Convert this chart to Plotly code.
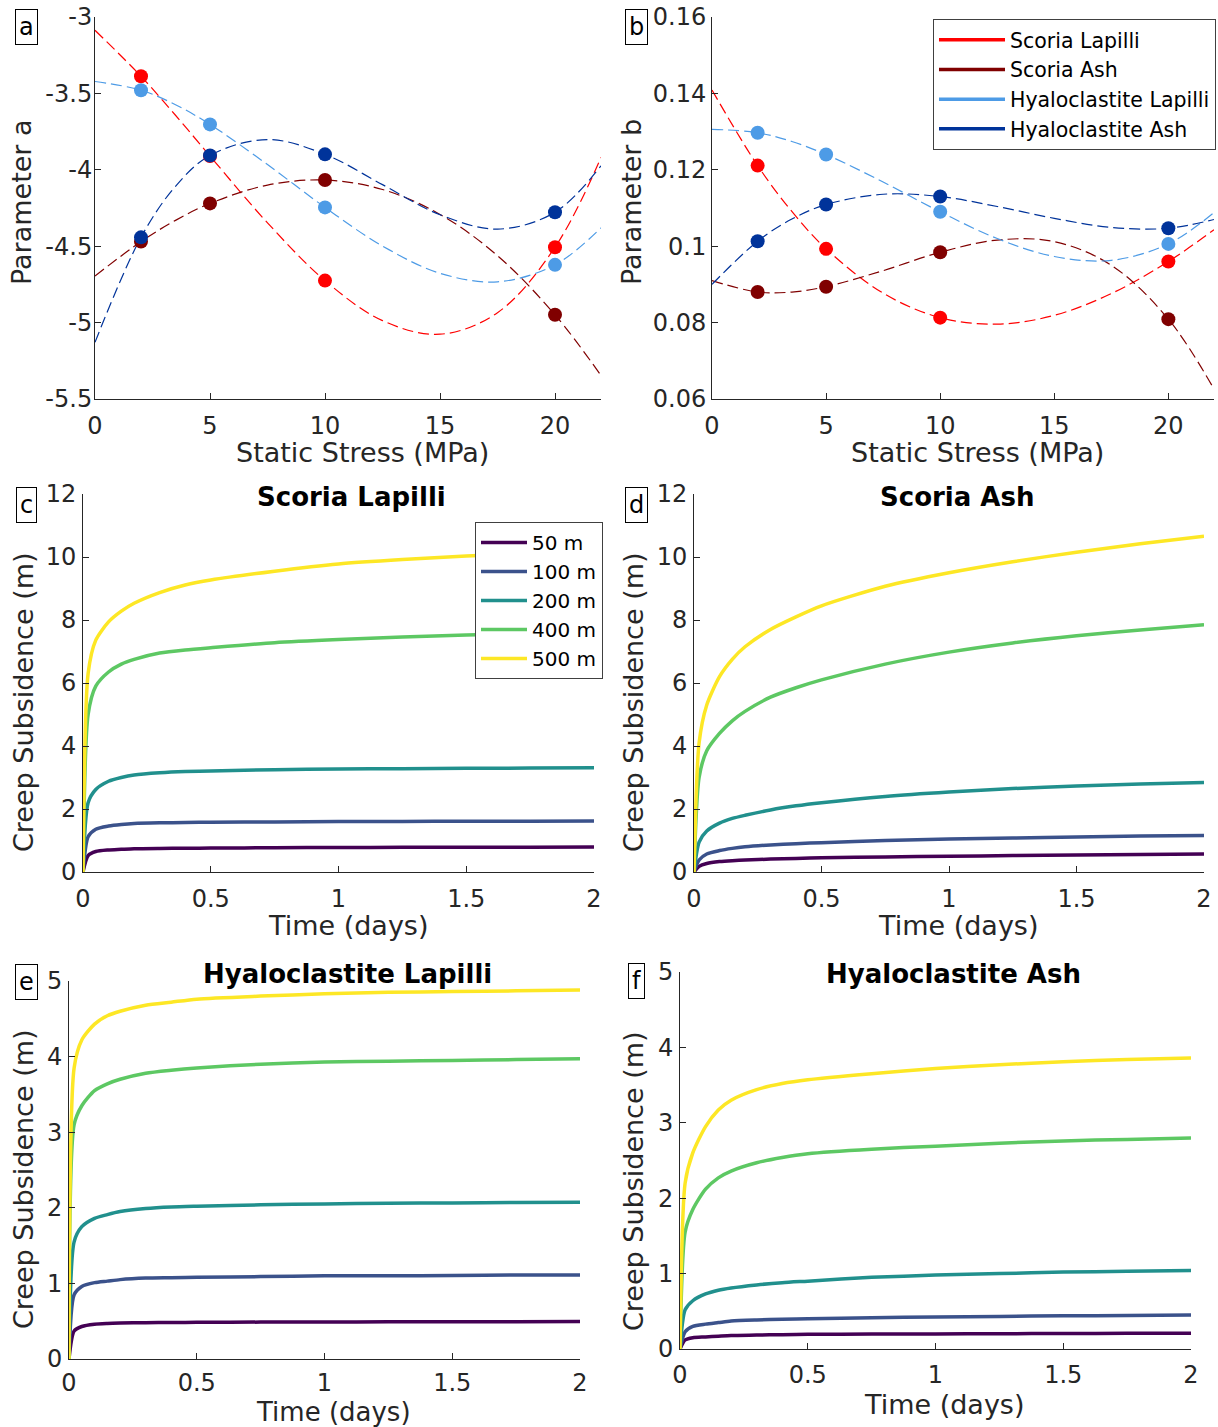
import plotly.graph_objects as go

W, H = 1218, 1427

# ---------------- Panels a & b : parameters vs static stress ----------------
MATERIALS = ["Scoria Lapilli", "Scoria Ash", "Hyaloclastite Lapilli", "Hyaloclastite Ash"]
MAT_COLORS = ["#ff0000", "#800000", "#4d9be6", "#00339a"]

STRESS = [2, 5, 10, 20]
FIT_STRESS = [0, 2, 3.5, 5, 7.5, 10, 12.5, 15, 17.5, 20, 22]

# parameter a (measured points)
A_SCORIA_LAPILLI = [-3.388, -3.91, -4.725, -4.507]
A_SCORIA_ASH = [-4.47, -4.22, -4.067, -4.949]
A_HYALO_LAPILLI = [-3.479, -3.703, -4.246, -4.622]
A_HYALO_ASH = [-4.442, -3.906, -3.899, -4.278]
# parameter a (dashed fit curves, read along FIT_STRESS)
A_FIT_SCORIA_LAPILLI = [-3.087, -3.388, -3.643, -3.91, -4.347, -4.725, -4.987, -5.076, -4.935, -4.507, -3.92]
A_FIT_SCORIA_ASH = [-4.695, -4.47, -4.331, -4.22, -4.100, -4.067, -4.129, -4.292, -4.562, -4.949, -5.346]
A_FIT_HYALO_LAPILLI = [-3.422, -3.479, -3.574, -3.703, -3.966, -4.246, -4.499, -4.677, -4.733, -4.622, -4.380]
A_FIT_HYALO_ASH = [-5.129, -4.442, -4.108, -3.906, -3.802, -3.899, -4.097, -4.294, -4.388, -4.278, -3.974]

# parameter b (measured points)
B_SCORIA_LAPILLI = [0.1211, 0.0993, 0.0813, 0.0960]
B_SCORIA_ASH = [0.0880, 0.0894, 0.0984, 0.0809]
B_HYALO_LAPILLI = [0.1297, 0.1240, 0.1090, 0.1006]
B_HYALO_ASH = [0.1013, 0.1109, 0.1130, 0.1047]
# parameter b (dashed fit curves)
B_FIT_SCORIA_LAPILLI = [0.1409, 0.1211, 0.1091, 0.0993, 0.0877, 0.0813, 0.0796, 0.0819, 0.0876, 0.0960, 0.1043]
B_FIT_SCORIA_ASH = [0.0910, 0.0880, 0.0880, 0.0894, 0.0936, 0.0984, 0.1016, 0.1012, 0.0950, 0.0809, 0.0626]
B_FIT_HYALO_LAPILLI = [0.1306, 0.1297, 0.1274, 0.1240, 0.1168, 0.1090, 0.1020, 0.0973, 0.0963, 0.1006, 0.1088]
B_FIT_HYALO_ASH = [0.0900, 0.1013, 0.1071, 0.1109, 0.1136, 0.1130, 0.1104, 0.1073, 0.1049, 0.1047, 0.1070]

A_TICKS = [-5.5, -5, -4.5, -4, -3.5, -3]
A_TICK_TEXT = ["-5.5", "-5", "-4.5", "-4", "-3.5", "-3"]
B_TICKS = [0.06, 0.08, 0.10, 0.12, 0.14, 0.16]
B_TICK_TEXT = ["0.06", "0.08", "0.1", "0.12", "0.14", "0.16"]
STRESS_TICKS = [0, 5, 10, 15, 20]

# ---------------- Panels c-f : creep subsidence vs time ----------------
DEPTHS = ["50 m", "100 m", "200 m", "400 m", "500 m"]
DEPTH_COLORS = ["#440154", "#3b528b", "#21908d", "#5dc863", "#fde725"]
TIME_DAYS = [0, 0.02, 0.05, 0.1, 0.15, 0.2, 0.3, 0.4, 0.5, 0.75, 1, 1.25, 1.5, 1.75, 2]

# Scoria Lapilli
SL_50 = [0, 0.52, 0.65, 0.70, 0.72, 0.74, 0.75, 0.755, 0.76, 0.77, 0.78, 0.782, 0.785, 0.788, 0.79]
SL_100 = [0, 1.12, 1.36, 1.46, 1.51, 1.54, 1.56, 1.57, 1.58, 1.59, 1.60, 1.605, 1.61, 1.615, 1.62]
SL_200 = [0, 2.2, 2.62, 2.88, 3.0, 3.08, 3.15, 3.19, 3.21, 3.25, 3.27, 3.28, 3.29, 3.30, 3.31]
SL_400 = [0, 5.0, 5.9, 6.35, 6.6, 6.75, 6.95, 7.05, 7.12, 7.28, 7.38, 7.46, 7.52, 7.57, 7.62]
SL_500 = [0, 6.3, 7.36, 7.94, 8.28, 8.53, 8.87, 9.11, 9.27, 9.55, 9.78, 9.92, 10.03, 10.11, 10.18]
# Scoria Ash
SA_50 = [0, 0.18, 0.27, 0.33, 0.36, 0.38, 0.41, 0.43, 0.45, 0.48, 0.50, 0.52, 0.54, 0.555, 0.57]
SA_100 = [0, 0.38, 0.57, 0.68, 0.75, 0.80, 0.86, 0.90, 0.93, 1.0, 1.05, 1.08, 1.11, 1.14, 1.16]
SA_200 = [0, 0.95, 1.3, 1.55, 1.7, 1.8, 1.97, 2.1, 2.2, 2.4, 2.54, 2.65, 2.73, 2.79, 2.84]
SA_400 = [0, 3.0, 3.85, 4.4, 4.8, 5.1, 5.55, 5.85, 6.1, 6.6, 6.98, 7.27, 7.5, 7.68, 7.85]
SA_500 = [0, 4.1, 5.3, 6.2, 6.75, 7.15, 7.7, 8.1, 8.45, 9.07, 9.5, 9.85, 10.15, 10.42, 10.66]
# Hyaloclastite Lapilli
HL_50 = [0, 0.37, 0.43, 0.46, 0.47, 0.475, 0.48, 0.483, 0.485, 0.488, 0.49, 0.492, 0.493, 0.494, 0.495]
HL_100 = [0, 0.85, 0.96, 1.01, 1.03, 1.05, 1.07, 1.075, 1.08, 1.09, 1.10, 1.10, 1.105, 1.11, 1.11]
HL_200 = [0, 1.55, 1.75, 1.86, 1.91, 1.95, 1.99, 2.01, 2.02, 2.04, 2.05, 2.06, 2.065, 2.07, 2.075]
HL_400 = [0, 3.1, 3.35, 3.55, 3.64, 3.7, 3.78, 3.82, 3.85, 3.9, 3.93, 3.94, 3.95, 3.96, 3.97]
HL_500 = [0, 3.85, 4.22, 4.43, 4.54, 4.6, 4.68, 4.72, 4.76, 4.8, 4.83, 4.85, 4.86, 4.87, 4.88]
# Hyaloclastite Ash
HA_50 = [0, 0.12, 0.15, 0.16, 0.17, 0.18, 0.185, 0.19, 0.195, 0.198, 0.20, 0.203, 0.205, 0.208, 0.21]
HA_100 = [0, 0.23, 0.30, 0.33, 0.35, 0.37, 0.385, 0.395, 0.40, 0.415, 0.425, 0.432, 0.44, 0.445, 0.45]
HA_200 = [0, 0.52, 0.64, 0.73, 0.78, 0.81, 0.85, 0.88, 0.90, 0.95, 0.98, 1.0, 1.02, 1.03, 1.04]
HA_400 = [0, 1.55, 1.85, 2.12, 2.27, 2.36, 2.47, 2.54, 2.59, 2.65, 2.69, 2.73, 2.76, 2.78, 2.80]
HA_500 = [0, 2.2, 2.6, 2.95, 3.17, 3.3, 3.44, 3.52, 3.57, 3.65, 3.72, 3.77, 3.81, 3.84, 3.86]

TIME_TICKS = [0, 0.5, 1, 1.5, 2]
TIME_TICK_TEXT = ["0", "0.5", "1", "1.5", "2"]

PANEL_TITLES = ["Scoria Lapilli", "Scoria Ash", "Hyaloclastite Lapilli", "Hyaloclastite Ash"]

# ---------------- build figure ----------------
FONT = "DejaVu Sans"
AX_COL = "#262626"
fig = go.Figure()

a_pts = [A_SCORIA_LAPILLI, A_SCORIA_ASH, A_HYALO_LAPILLI, A_HYALO_ASH]
a_fit = [A_FIT_SCORIA_LAPILLI, A_FIT_SCORIA_ASH, A_FIT_HYALO_LAPILLI, A_FIT_HYALO_ASH]
b_pts = [B_SCORIA_LAPILLI, B_SCORIA_ASH, B_HYALO_LAPILLI, B_HYALO_ASH]
b_fit = [B_FIT_SCORIA_LAPILLI, B_FIT_SCORIA_ASH, B_FIT_HYALO_LAPILLI, B_FIT_HYALO_ASH]

for (pts, fit, xa, ya) in [(a_pts, a_fit, "x", "y"), (b_pts, b_fit, "x2", "y2")]:
    for i in range(4):
        fig.add_trace(go.Scatter(x=FIT_STRESS, y=fit[i], mode="lines", xaxis=xa, yaxis=ya,
                                 line=dict(color=MAT_COLORS[i], width=1.2, dash="11px,5px",
                                           shape="spline", smoothing=1.0),
                                 showlegend=False, hoverinfo="skip"))
    for i in range(4):
        fig.add_trace(go.Scatter(x=STRESS, y=pts[i], mode="markers", xaxis=xa, yaxis=ya,
                                 marker=dict(color=MAT_COLORS[i], size=14, line=dict(width=0)),
                                 showlegend=False, name=MATERIALS[i]))

# legend entries for panel b
for i in range(4):
    fig.add_trace(go.Scatter(x=[None], y=[None], mode="lines", xaxis="x2", yaxis="y2",
                             line=dict(color=MAT_COLORS[i], width=3.5),
                             name=MATERIALS[i], showlegend=True, legend="legend"))

creep_sets = [
    ([SL_50, SL_100, SL_200, SL_400, SL_500], "x3", "y3"),
    ([SA_50, SA_100, SA_200, SA_400, SA_500], "x4", "y4"),
    ([HL_50, HL_100, HL_200, HL_400, HL_500], "x5", "y5"),
    ([HA_50, HA_100, HA_200, HA_400, HA_500], "x6", "y6"),
]
for k, (series, xa, ya) in enumerate(creep_sets):
    for j in range(5):
        fig.add_trace(go.Scatter(x=TIME_DAYS, y=series[j], mode="lines", xaxis=xa, yaxis=ya,
                                 line=dict(color=DEPTH_COLORS[j], width=3.5, shape="spline", smoothing=0.7),
                                 name=DEPTHS[j], showlegend=(k == 0), legend="legend2"))

# ---------------- axes layout ----------------
panels = {
    1: dict(x=(95, 601), y=(17, 399), ystand=-3, xstand=5),
    2: dict(x=(712, 1214), y=(17, 399), ystand=0, xstand=5),
    3: dict(x=(83, 594), y=(494, 872), ystand=1, xstand=5),
    4: dict(x=(694, 1204), y=(494, 872), ystand=1, xstand=5),
    5: dict(x=(69, 580), y=(981, 1359), ystand=1, xstand=2),
    6: dict(x=(680, 1191), y=(972, 1349), ystand=1, xstand=4),
}

common = dict(showline=True, linecolor=AX_COL, linewidth=1, ticks="inside", ticklen=6,
              tickcolor=AX_COL, tickwidth=1, showgrid=False, zeroline=False,
              tickfont=dict(family=FONT, size=24, color=AX_COL), mirror=False)

lay = {}
for n, p in panels.items():
    xs = "" if n == 1 else str(n)
    xd = [p["x"][0] / W, p["x"][1] / W]
    yd = [1 - p["y"][1] / H, 1 - p["y"][0] / H]
    lay["xaxis" + xs] = dict(domain=xd, anchor="y" + xs, ticklabelstandoff=p["xstand"], **common)
    lay["yaxis" + xs] = dict(domain=yd, anchor="x" + xs, ticklabelstandoff=p["ystand"], **common)

for n in (1, 2):
    xs = "" if n == 1 else str(n)
    lay["xaxis" + xs].update(range=[0, 22], tickvals=STRESS_TICKS)
lay["yaxis"].update(range=[-5.5, -3], tickvals=A_TICKS, ticktext=A_TICK_TEXT)
lay["yaxis2"].update(range=[0.06, 0.16], tickvals=B_TICKS, ticktext=B_TICK_TEXT)
for n in (3, 4, 5, 6):
    lay["xaxis%d" % n].update(range=[0, 2], tickvals=TIME_TICKS, ticktext=TIME_TICK_TEXT)
for n in (3, 4):
    lay["yaxis%d" % n].update(range=[0, 12], tickvals=[0, 2, 4, 6, 8, 10, 12])
for n in (5, 6):
    lay["yaxis%d" % n].update(range=[0, 5], tickvals=[0, 1, 2, 3, 4, 5])

fig.update_layout(**lay)

# ---------------- text annotations ----------------
ann = []


def px(x, y):
    return x / W, 1 - y / H


def text(x, y, s, size=27, bold=False, angle=0, color=AX_COL):
    X, Y = px(x, y)
    ann.append(dict(x=X, y=Y, xref="paper", yref="paper", text=("<b>%s</b>" % s) if bold else s,
                    showarrow=False, textangle=angle, xanchor="center", yanchor="middle",
                    font=dict(family=FONT, size=size, color=color)))


# axis titles
text(22, 202, "Parameter a", angle=-90)
text(362, 452, "Static Stress (MPa)")
text(632, 202, "Parameter b", angle=-90)
text(977, 452, "Static Stress (MPa)")
text(23, 702, "Creep Subsidence (m)", angle=-90)
text(348, 925, "Time (days)")
text(633, 702, "Creep Subsidence (m)", angle=-90)
text(958, 925, "Time (days)")
text(23, 1179, "Creep Subsidence (m)", angle=-90)
text(333, 1412, "Time (days)", size=26)
text(633, 1181, "Creep Subsidence (m)", angle=-90)
text(944, 1404, "Time (days)")
# panel titles
text(351, 497, PANEL_TITLES[0], size=26, bold=True, color="#000000")
text(957, 497, PANEL_TITLES[1], size=26, bold=True, color="#000000")
text(347, 974, PANEL_TITLES[2], size=26, bold=True, color="#000000")
text(953, 974, PANEL_TITLES[3], size=26, bold=True, color="#000000")

# panel letters in boxes
for lab, (x, y) in zip("abcdef", [(26, 27), (636, 27), (26, 505), (636, 505), (26, 982), (636, 981)]):
    X, Y = px(x, y)
    ann.append(dict(x=X, y=Y, xref="paper", yref="paper", text=lab, showarrow=False,
                    xanchor="center", yanchor="middle", bordercolor="#000000", borderwidth=1,
                    borderpad=3, bgcolor="white",
                    font=dict(family=FONT, size=24, color="#000000")))

fig.update_layout(
    annotations=ann,
    autosize=True,
    margin=dict(l=0, r=0, t=0, b=0, autoexpand=False),
    paper_bgcolor="white", plot_bgcolor="white",
    font=dict(family=FONT, color=AX_COL),
    legend=dict(x=1216 / W, y=1 - 19 / H, xanchor="right", yanchor="top",
                bgcolor="white", bordercolor="#404040", borderwidth=1,
                font=dict(family=FONT, size=20.5, color="#000000"), itemwidth=66,
                tracegroupgap=0),
    legend2=dict(x=603 / W, y=1 - 522 / H, xanchor="right", yanchor="top",
                 bgcolor="white", bordercolor="#404040", borderwidth=1,
                 font=dict(family=FONT, size=20, color="#000000"), itemwidth=46,
                 tracegroupgap=0),
    showlegend=True,
)

fig.write_html(
    "out.html",
    config={"displayModeBar": False},
    default_width="%dpx; position:absolute; left:0px; top:0px" % W,
    default_height="%dpx" % H,
    post_script="document.body.style.margin='0';",
)
